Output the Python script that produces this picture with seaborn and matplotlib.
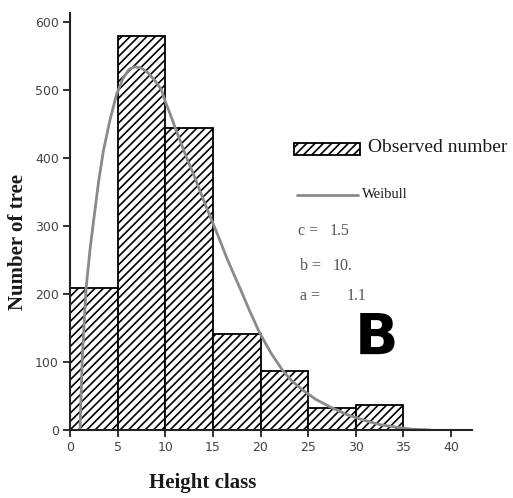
import numpy as np
import pandas as pd
import matplotlib
matplotlib.use("Agg")
import matplotlib.pyplot as plt
import seaborn as sns
from matplotlib.patches import Rectangle
from matplotlib.lines import Line2D

# ---- data ----
bin_edges = [0, 5, 10, 15, 20, 25, 30, 35]
observed = [209, 579, 444, 141, 87, 32, 37]
weibull_x = [1.05, 1.3, 1.7, 2.1, 2.5, 3.0, 3.5, 4.2, 4.9, 5.6, 6.2, 6.8, 7.5,
             8.2, 9.0, 9.6, 10.0, 10.5, 11.0, 11.7, 12.3, 13.0, 13.6, 14.3,
             15.0, 15.7, 16.4, 17.1, 17.8, 18.8, 19.9, 21.1, 22.3, 23.3, 24.4,
             25.8, 27.3, 29.0, 30.7, 32.5, 34.3, 36.0, 37.8]
weibull_y = [0, 110, 210, 265, 310, 365, 410, 456, 494, 518, 530, 534, 532,
             525, 512, 500, 483, 465, 446, 420, 398, 375, 353, 328,
             304, 280, 255, 232, 210, 177, 143, 113, 88, 72, 59,
             45, 34, 23, 15, 8, 4, 1, 0]
x_ticks = [0, 5, 10, 15, 20, 25, 30, 35, 40]
y_ticks = [0, 100, 200, 300, 400, 500, 600]
params = [("c =", "1.5"), ("b =", "10."), ("a =", "1.1")]

sns.set_theme(style="white")
plt.rcParams["hatch.linewidth"] = 1.2
plt.rcParams["hatch.color"] = "black"

W, H = 513, 498
fig = plt.figure(figsize=(W / 100, H / 100), dpi=100)
ax = fig.add_axes([70 / W, 1 - 430 / H, (472 - 70) / W, (430 - 13) / H])

mids = [(bin_edges[i] + bin_edges[i + 1]) / 2 for i in range(len(observed))]
df = pd.DataFrame({"height": mids, "count": observed})
sns.histplot(data=df, x="height", weights="count", bins=bin_edges, ax=ax,
             color="white", edgecolor="black", linewidth=1.3, alpha=1)
for p in ax.patches:
    p.set_hatch("////")
    p.set_facecolor("white")
    p.set_edgecolor("black")

cdf = pd.DataFrame({"x": weibull_x, "y": weibull_y})
sns.lineplot(data=cdf, x="x", y="y", ax=ax, color="#8a8a8a", linewidth=2.0)

ax.set_xlim(0, 42.2)
ax.set_ylim(0, 613)
ax.set_xticks(x_ticks)
ax.set_yticks(y_ticks)
ax.set_xticklabels([str(t) for t in x_ticks], family="DejaVu Sans", fontsize=9, color="#444444")
ax.set_yticklabels([str(t) for t in y_ticks], family="DejaVu Sans", fontsize=9, color="#444444")
ax.tick_params(axis="both", direction="out", length=5, width=1.3, color="#222222",
               bottom=True, left=True, pad=3)
for s in ["top", "right"]:
    ax.spines[s].set_visible(False)
for s in ["left", "bottom"]:
    ax.spines[s].set_color("#222222")
    ax.spines[s].set_linewidth(1.5)

ax.set_xlabel("")
ax.set_ylabel("")
serif = ["Liberation Serif", "DejaVu Serif"]
fig.text(203 / W, 1 - 483 / H, "Height class", family=serif, fontweight="bold",
         fontsize=15, ha="center", va="center", color="#1a1a1a")
fig.text(18 / W, 1 - 242 / H, "Number of tree", family=serif, fontweight="bold",
         fontsize=15, ha="center", va="center", rotation=90, color="#1a1a1a")

# legend (drawn manually)
fig.patches.append(Rectangle((294 / W, 1 - 155 / H), 66 / W, 12 / H,
                             transform=fig.transFigure, facecolor="white",
                             edgecolor="black", linewidth=1.3, hatch="////"))
fig.text(368 / W, 1 - 147 / H, "Observed number", family=serif, fontsize=14,
         ha="left", va="center", color="#1a1a1a")
fig.lines.append(Line2D([297 / W, 358 / W], [1 - 195 / H, 1 - 195 / H],
                        transform=fig.transFigure, color="#8a8a8a", linewidth=2.0))
fig.text(362 / W, 1 - 194 / H, "Weibull", family=serif, fontsize=10.5,
         ha="left", va="center", color="#1a1a1a")

label_x = [298, 300, 300]
value_x = [330, 333, 347]
row_y = [231, 266, 296]
for (lab, val), lx, vx, ry in zip(params, label_x, value_x, row_y):
    fig.text(lx / W, 1 - ry / H, lab, family=serif, fontsize=11.5,
             ha="left", va="center", color="#555555")
    fig.text(vx / W, 1 - ry / H, val, family=serif, fontsize=11.5,
             ha="left", va="center", color="#555555")

fig.text(376 / W, 1 - 339 / H, "B", family="DejaVu Sans", fontweight="heavy",
         fontsize=41, ha="center", va="center", color="black")

fig.savefig("out.png", dpi=100, facecolor="white")
